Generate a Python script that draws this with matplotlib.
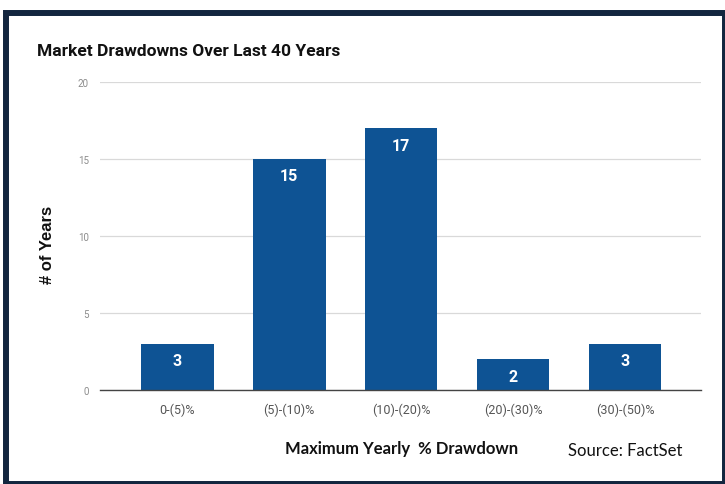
import matplotlib
matplotlib.use("Agg")
import matplotlib.pyplot as plt
from matplotlib.patches import Rectangle

categories = ["0-(5)%", "(5)-(10)%", "(10)-(20)%", "(20)-(30)%", "(30)-(50)%"]
years = [3, 15, 17, 2, 3]
y_ticks = [0, 5, 10, 15, 20]

W, H = 725, 485
BAR_COLOR = "#0e5394"
NAVY = "#13263f"


def px_x(x):
    return x / W


def px_y(y):
    return 1 - y / H


fig = plt.figure(figsize=(W / 100, H / 100), dpi=100)
fig.patch.set_facecolor("white")

ax = fig.add_axes([px_x(100), px_y(391), px_x(701) - px_x(100), px_y(83) - px_y(391)])

x = list(range(len(categories)))
bars = ax.bar(x, years, width=0.65, color=BAR_COLOR, zorder=3)

# value labels inside the top of each bar
for rect, v in zip(bars, years):
    ax.annotate(str(v), (rect.get_x() + rect.get_width() / 2, v),
                xytext=(0, -17), textcoords="offset pixels",
                ha="center", va="center", color="white",
                fontsize=11.5, fontweight="bold", family="Roboto", zorder=4)

ax.set_xlim(-0.69, 4.68)
ax.set_ylim(0, 20)
ax.set_yticks(y_ticks)
ax.set_yticklabels([str(t) for t in y_ticks], family="Roboto", fontsize=7, color="#8c8c8c")
ax.set_xticks(x)
ax.set_xticklabels(categories, family="Roboto", fontsize=9, color="#555555")
ax.tick_params(axis="both", length=0)
ax.tick_params(axis="y", pad=8)
ax.tick_params(axis="x", pad=9)

ax.grid(axis="y", color="#d9d9d9", linewidth=0.9, zorder=0)
for s in ["top", "right", "left"]:
    ax.spines[s].set_visible(False)
ax.spines["bottom"].set_color("#444444")
ax.spines["bottom"].set_linewidth(1.0)
ax.spines["bottom"].set_zorder(5)

# text outside the axes
fig.text(px_x(37), px_y(52), "Market Drawdowns Over Last 40 Years",
         family="Roboto", fontweight="bold", fontsize=12.5, color="#111111",
         ha="left", va="center")
fig.text(px_x(47), px_y(245), "# of Years", family="Liberation Sans",
         fontweight="bold", fontsize=12, rotation=90, ha="center", va="center",
         color="#111111")
fig.text(px_x(402), px_y(449), "Maximum Yearly  % Drawdown", family="Lato",
         fontweight="bold", fontsize=12, ha="center", va="center", color="#111111")
fig.text(px_x(625), px_y(451), "Source: FactSet", family="Lato",
         fontsize=12, ha="center", va="center", color="#111111")

# dark frame around the chart
fig.add_artist(Rectangle((px_x(6), 0), px_x(725) - px_x(6), px_y(14),
                         transform=fig.transFigure, fill=False,
                         edgecolor=NAVY, linewidth=4.3))

fig.savefig("out.png", dpi=100)
